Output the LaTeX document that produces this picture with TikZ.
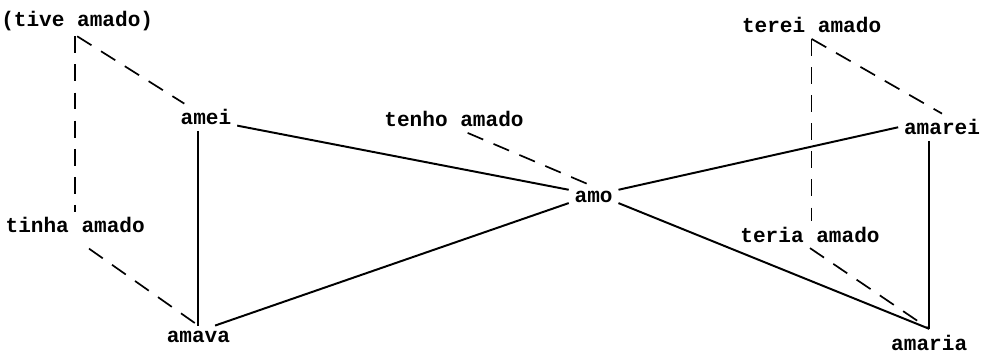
\documentclass[tikz,border=0pt]{standalone}
\usepackage{fontspec}
\setmonofont{Liberation Mono}
\usepackage{tikz}
\usetikzlibrary{calc}

\tikzset{
  form/.style={font=\fontsize{15}{18}\selectfont\ttfamily\bfseries, inner sep=4pt, anchor=base},
  link/.style={line width=1.4pt},
  auxlink/.style={line width=1.2pt, dash pattern=on 12pt off 8pt}
}

\begin{document}
\begin{tikzpicture}
\useasboundingbox (0,0) rectangle (24.65,8.85);

% Forms of the verb
\node [form] (tive) at (1.93,8.20) {(tive amado)};
\node [form] (tinha) at (1.88,3.03) {tinha amado};
\node [form] (amei) at (5.15,5.73) {amei};
\node [form] (amava) at (4.96,0.28) {amava};
\node [form] (tenho) at (11.35,5.68) {tenho amado};
\node [form] (amo) at (14.84,3.80) {amo};
\node [form] (terei) at (20.29,8.03) {terei amado};
\node [form] (teria) at (20.25,2.80) {teria amado};
\node [form] (amarei) at (23.55,5.48) {amarei};
\node [form] (amaria) at (23.23,0.10) {amaria};

% Simple forms
\draw [link] (amei.345) -- (amo.165);
\draw [link] (amava.35) -- (amo.195);
\draw [link] (amo.15) -- (amarei.west);
\draw [link] (amo.345) -- (amaria.north);
\draw [link] (amava.north |- amei.south) -- (amava.north);
\draw [link] (amaria.north |- amarei.south) -- (amaria.north);

% Compound forms
\draw [auxlink] (tive.south) -- (amei);
\draw [auxlink] (tinha.north |- tive.south) -- (tinha.north);
\draw [auxlink, shorten <=12pt] (tinha.south) -- (amava.north);
\draw [auxlink] (tenho.-45) -- (amo.110);
\draw [auxlink] (terei.south) -- (amarei.north);
\draw [auxlink] (terei.south) -- (terei.south |- teria.north);
\draw [auxlink] (teria.south) -- (amaria.north);

\end{tikzpicture}
\end{document}
